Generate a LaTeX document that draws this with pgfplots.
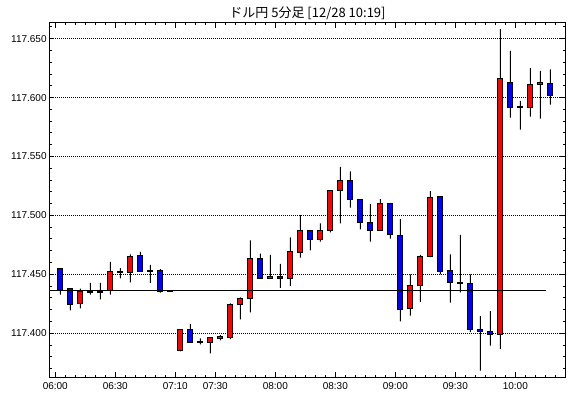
\documentclass[border=0pt]{standalone}
\usepackage{fontspec}
\setmainfont{Liberation Sans}
\newfontfamily\jp{Noto Sans CJK JP}
\usepackage{pgfplots}
\pgfplotsset{compat=1.18}
\usepackage{pgfplotstable}
% prices given as (price - 117) in yen
\pgfplotstableread{
i O H L C
0 0.4552 0.4552 0.4328 0.4371
1 0.4379 0.4379 0.4195 0.4244
2 0.4250 0.4379 0.4212 0.4356
3 0.4354 0.4428 0.4328 0.4346
4 0.4354 0.4428 0.4287 0.4346
5 0.4365 0.4606 0.4328 0.4526
6 0.4518 0.4552 0.4466 0.4526
7 0.4517 0.4669 0.4431 0.4655
8 0.4658 0.4690 0.4522 0.4522
9 0.4535 0.4580 0.4428 0.4527
10 0.4534 0.4543 0.4345 0.4356
11 0.4360 0.4362 0.4352 0.4352
12 0.3853 0.4034 0.3845 0.4034
13 0.4034 0.4080 0.3922 0.3922
14 0.3932 0.3957 0.3905 0.3924
15 0.3922 0.3960 0.3828 0.3960
16 0.3954 0.3983 0.3940 0.3971
17 0.3962 0.4253 0.3950 0.4241
18 0.4241 0.4304 0.4117 0.4293
19 0.4293 0.4787 0.4178 0.4638
20 0.4638 0.4675 0.4466 0.4466
21 0.4466 0.4666 0.4466 0.4479
22 0.4479 0.4589 0.4385 0.4466
23 0.4466 0.4813 0.4402 0.4690
24 0.4687 0.5003 0.4641 0.4874
25 0.4874 0.4874 0.4704 0.4797
26 0.4797 0.4933 0.4777 0.4874
27 0.4874 0.5213 0.4857 0.5213
28 0.5213 0.5411 0.4933 0.5298
29 0.5298 0.5374 0.5065 0.5137
30 0.5137 0.5137 0.4882 0.4941
31 0.4941 0.5097 0.4777 0.4874
32 0.4874 0.5139 0.4874 0.5103
33 0.5103 0.5103 0.4802 0.4842
34 0.4831 0.4969 0.4101 0.4203
35 0.4211 0.4500 0.4149 0.4407
36 0.4407 0.4664 0.4267 0.4653
37 0.4653 0.5205 0.4645 0.5154
38 0.5162 0.5162 0.4500 0.4525
39 0.4534 0.4670 0.4259 0.4432
40 0.4433 0.4834 0.4347 0.4425
41 0.4424 0.4500 0.4010 0.4033
42 0.4033 0.4146 0.3682 0.4013
43 0.4013 0.4188 0.3894 0.3991
44 0.3991 0.6582 0.3868 0.6164
45 0.6130 0.6396 0.5829 0.5918
46 0.5922 0.5971 0.5728 0.5914
47 0.5918 0.6249 0.5838 0.6113
48 0.6113 0.6226 0.5821 0.6130
49 0.6121 0.6240 0.5940 0.6016
}\candles

\pgfplotsset{base/.style={at={(49.3pt,20.7pt)}, anchor=south west,
  scale only axis, width=515.7pt, height=354.3pt,
  xmin=-1.1, xmax=50.47, ymin=0.3626, ymax=0.6633}}

\begin{document}
\begin{tikzpicture}
\useasboundingbox (0,0) rectangle (570pt,398pt);
\begin{axis}[base, ybar stacked, bar width=1pt,
  axis line style={black, line width=1pt},
  tick align=inside,
  xtick={-0.5,5.5,11.5,15.5,21.5,27.5,33.5,39.5,45.5},
  xticklabels={06:00,06:30,07:10,07:30,08:00,08:30,09:00,09:30,10:00},
  minor xtick={-0.5,0.5,...,49.5},
  ytick={0.40,0.45,0.50,0.55,0.60,0.65},
  yticklabels={117.400,117.450,117.500,117.550,117.600,117.650},
  minor ytick={0.37,0.38,0.39,0.41,0.42,0.43,0.44,0.46,0.47,0.48,0.49,0.51,0.52,0.53,0.54,0.56,0.57,0.58,0.59,0.61,0.62,0.63,0.64,0.66},
  major tick length=5pt, minor tick length=2.5pt,
  every tick/.style={black, line width=1pt},
  ymajorgrids, major grid style={black, line width=1pt, dash pattern=on 1pt off 1pt},
  xticklabel style={inner sep=0pt, anchor=north, yshift=-5pt},
  yticklabel style={inner sep=0pt, anchor=east, xshift=-2.5pt},
]
\addplot[draw=none, fill=none] table[x=i, y=L]{\candles};
\addplot[draw=none, fill=black] table[x=i, y expr={\thisrow{H}-\thisrow{L}}]{\candles};
\end{axis}
\begin{axis}[base, hide axis, ybar stacked, bar width=5pt]
\addplot[draw=none, fill=none] table[x=i, y expr={min(\thisrow{O},\thisrow{C})}]{\candles};
\addplot[draw=black, line width=1pt, fill=red] table[x=i, y expr={max(\thisrow{C}-\thisrow{O},0)}]{\candles};
\addplot[draw=black, line width=1pt, fill=blue] table[x=i, y expr={max(\thisrow{O}-\thisrow{C},0)}]{\candles};
\end{axis}
\begin{axis}[base, hide axis]
\addplot[black, line width=1pt] coordinates {(-1.1,0.4364) (48.6,0.4364)};
\end{axis}
\node[font=\jp\fontsize{13}{15}\selectfont] at (307.5pt,384.5pt) {ドル円 5分足 [12/28 10:19]};
\end{tikzpicture}
\end{document}
